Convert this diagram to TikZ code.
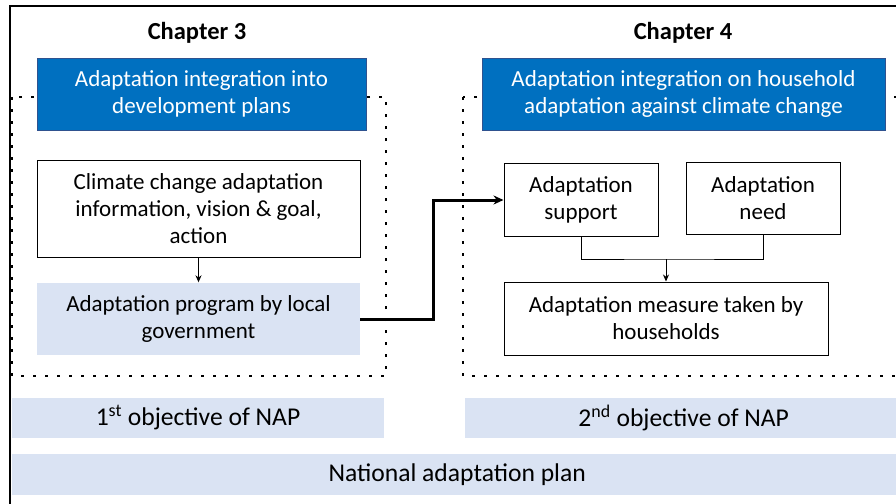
\documentclass[tikz,border=0pt]{standalone}
\usepackage{fontspec}
\setmainfont{Carlito}
\usetikzlibrary{arrows.meta}
\definecolor{hdrblue}{HTML}{0070C0}
\definecolor{hdredge}{HTML}{2F528F}
\definecolor{paleblue}{HTML}{DAE3F3}
\tikzset{
  px/.style={x=1pt,y=-1pt},
  txt/.style={font=\fontsize{23}{27}\selectfont, align=center, inner sep=0pt},
  bigtxt/.style={font=\fontsize{25.6}{30}\selectfont},
  hdrbox/.style={txt, rectangle, fill=hdrblue, draw=hdredge, line width=0.8pt, text=white},
  plainbox/.style={txt, rectangle, fill=white, draw=black, line width=1pt},
  palebox/.style={txt, rectangle, fill=paleblue},
  chaptitle/.style={font=\fontsize{24.5}{28}\selectfont\bfseries, inner sep=0pt},
  dotframe/.style={line width=2.8pt, dash pattern=on 2.8pt off 9.2pt},
  thin/.style={line width=0.9pt, -{Stealth[length=7pt,width=6pt]}},
  thick/.style={line width=3pt, -{Stealth[length=10pt,width=9pt]}},
}
\begin{document}
\begin{tikzpicture}[px]
\useasboundingbox (0,0) rectangle (896,503);
\clip (0,0) rectangle (896,503);
\fill[white] (0,0) rectangle (896,503);
% outer frame, runs off the right and bottom edges
\draw[line width=2pt] (10,6) rectangle (920,520);
% dotted group frames (the right one continues past the edge)
\draw[dotframe] (12,97) rectangle (386,376);
\draw[dotframe] (463,97) rectangle (917,376);
% chapter titles
\node[chaptitle] (ch3) at (197,33) {Chapter 3};
\node[chaptitle] (ch4) at (683,33) {Chapter 4};
% header boxes
\node[hdrbox, minimum width=329pt, minimum height=72pt] (h3) at (201.5,94)
  {Adaptation integration into\\development plans};
\node[hdrbox, minimum width=403pt, minimum height=72pt] (h4) at (683.5,94)
  {Adaptation integration on household\\adaptation against climate change};
% chapter 3 content
\node[plainbox, minimum width=323pt, minimum height=97pt] (info) at (198.5,208.5)
  {Climate change adaptation\\information, vision \& goal,\\action};
\node[palebox, minimum width=323pt, minimum height=72pt] (prog) at (198.5,318.5)
  {Adaptation program by local\\government};
% chapter 4 content
\node[plainbox, minimum width=154pt, minimum height=73pt] (supp) at (581,199.5)
  {Adaptation\\support};
\node[plainbox, minimum width=154pt, minimum height=72pt] (need) at (763,198)
  {Adaptation\\need};
\node[plainbox, minimum width=324pt, minimum height=73pt] (meas) at (666,318.5)
  {Adaptation measure taken by\\households};
% objective bars
\node[palebox, bigtxt, minimum width=372pt, minimum height=40pt] (obj1) at (198,418)
  {1\textsuperscript{st} objective of NAP};
\node[palebox, bigtxt, minimum width=460pt, minimum height=40pt, anchor=west] (obj2) at (465,418)
  {\hspace*{-23pt}2\textsuperscript{nd} objective of NAP};
\node[palebox, bigtxt, minimum width=900pt, minimum height=41pt, anchor=west] (nap) at (12,474.5)
  {\hspace*{-10pt}National adaptation plan};
% connectors
\draw[thin] (info.south) -- (prog.north);
\coordinate (join) at (666,259);
\draw[line width=0.9pt] (supp.south) |- (join) -| (need.south);
\draw[thin] (join) -- (meas.north);
\draw[thick] (prog.east |- 0,319) -- (433,319) |- (supp.west |- 0,200);
\end{tikzpicture}
\end{document}
